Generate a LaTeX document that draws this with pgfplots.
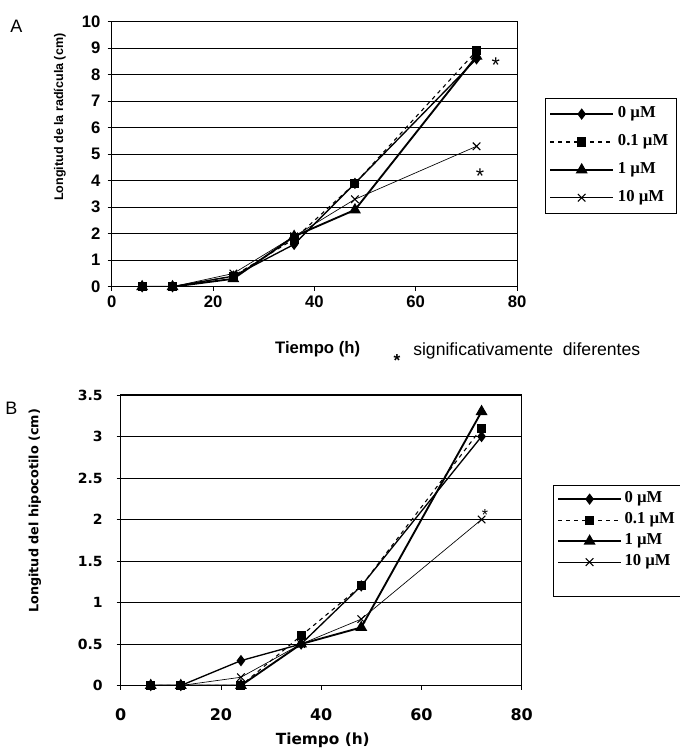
\documentclass[border=0pt]{standalone}
\usepackage{pgfplots}
\pgfplotsset{compat=1.18}
\usepackage{fontspec}
\setmainfont{Liberation Sans}
\newfontfamily\arial{Liberation Sans}
\newfontfamily\verd{DejaVu Sans}
\newfontfamily\tnr{Liberation Serif}
\begin{document}
\begin{tikzpicture}
\useasboundingbox (0,0) rectangle (510pt,564.75pt);
\pgfplotsset{
  every axis/.append style={
    scale only axis,
    xmin=0,xmax=80, xtick={0,20,40,60,80},
    tick pos=left, tick align=outside, major tick length=3pt,
    tick style={black, line width=0.6pt},
    ymajorgrids, grid style={black, line width=0.5pt},
    axis line style={black, line width=0.8pt},
    /pgf/number format/assume math mode=true,
    legend cell align=left,
    legend image code/.code={\draw[mark repeat=2,mark phase=2,#1] plot coordinates {(0pt,0pt) (23.5pt,0pt) (47pt,0pt)};},
  },
  s0/.style={black, line width=1pt, mark=diamond*, mark size=3.5pt, mark options={solid}},
  s1/.style={black, line width=0.8pt, dash pattern=on 3pt off 3pt, mark=square*, mark size=3pt, mark options={solid}},
  s2/.style={black, line width=1.4pt, mark=triangle*, mark size=3.8pt, mark options={solid}},
  s3/.style={black, line width=0.5pt, mark=x, mark size=4pt, mark options={solid, line width=0.8pt}},
}
% Panel A
\begin{axis}[at={(83.8pt,349.7pt)}, anchor=south west, width=304pt, height=198.75pt,
  ymin=0, ymax=10, ytick={0,1,2,3,4,5,6,7,8,9,10},
  yticklabels={0,1,2,3,4,5,6,7,8,9,10},
  xticklabels={0,20,40,60,80},
  yticklabel style={font=\arial\bfseries\fontsize{12.5}{12.5}\selectfont, xshift=-2pt},
  xticklabel style={font=\arial\bfseries\fontsize{12.5}{12.5}\selectfont},
  xlabel={Tiempo (h)},
  xlabel style={at={(axis description cs:0.508,-0.234)}, anchor=center, font=\arial\bfseries\fontsize{12.5}{12.5}\selectfont},
  ylabel={Longitud de la radícula (cm)},
  ylabel style={at={(axis description cs:-0.128,0.640)}, anchor=center, font=\arial\bfseries\fontsize{9.4}{9.4}\selectfont},
  legend style={at={(axis description cs:1.069,0.712)}, anchor=north west, draw=black, line width=0.6pt,
    font=\tnr\bfseries\fontsize{12.5}{12.5}\selectfont, inner xsep=3pt, inner ysep=5.5pt,
    nodes={inner xsep=3pt, inner ysep=1pt, text height=8pt, text depth=2.5pt}, row sep=8.4pt},
]
\addplot[s0] coordinates {(6,0) (12,0) (24,0.4) (36,1.6) (48,3.9) (72,8.6)};
\addlegendentry{0 µM}
\addplot[s1] coordinates {(6,0) (12,0) (24,0.4) (36,1.8) (48,3.9) (72,8.9)};
\addlegendentry{0.1 µM}
\addplot[s2] coordinates {(6,0) (12,0) (24,0.3) (36,1.9) (48,2.9) (72,8.7)};
\addlegendentry{1 µM}
\addplot[s3] coordinates {(6,0) (12,0) (24,0.5) (36,1.9) (48,3.3) (72,5.3)};
\addlegendentry{10 µM}
\node[font=\fontsize{16}{16}\selectfont, inner sep=0, yshift=-3.5pt] at (axis cs:75.8,8.55) {*};
\node[font=\fontsize{16}{16}\selectfont, inner sep=0, yshift=-3.5pt] at (axis cs:72.7,4.34) {*};
\end{axis}
% Panel B
\begin{axis}[at={(90.5pt,50.6pt)}, anchor=south west, width=300.75pt, height=217.9pt,
  ymin=0, ymax=3.5, ytick={0,0.5,1,1.5,2,2.5,3,3.5},
  yticklabel style={font=\verd\bfseries\fontsize{10.5}{10.5}\selectfont, xshift=-7pt},
  xticklabel style={font=\verd\bfseries\fontsize{12}{12}\selectfont, yshift=-11pt},
  xlabel={Tiempo (h)},
  xlabel style={at={(axis description cs:0.504,-0.189)}, anchor=center, font=\verd\bfseries\fontsize{11.5}{11.5}\selectfont},
  ylabel={Longitud del hipocotilo (cm)},
  ylabel style={at={(axis description cs:-0.214,0.601)}, anchor=center, font=\verd\bfseries\fontsize{9.6}{9.6}\selectfont},
  legend style={at={(axis description cs:1.078,0.690)}, anchor=north west, draw=black, line width=0.6pt,
    font=\tnr\bfseries\fontsize{12.5}{12.5}\selectfont, inner xsep=3pt, inner ysep=4pt,
    nodes={inner xsep=2pt, inner ysep=1pt, text height=8pt, text depth=2.5pt}, row sep=3.25pt},
]
\addplot[s0] coordinates {(6,0) (12,0) (24,0.3) (36,0.5) (48,1.2) (72,3.0)};
\addlegendentry{0 µM}
\addplot[s1] coordinates {(6,0) (12,0) (24,0) (36,0.6) (48,1.2) (72,3.1)};
\addlegendentry{0.1 µM}
\addplot[s2] coordinates {(6,0) (12,0) (24,0) (36,0.5) (48,0.7) (72,3.3)};
\addlegendentry{1 µM}
\addplot[s3] coordinates {(6,0) (12,0) (24,0.1) (36,0.5) (48,0.8) (72,2.0)};
\addlegendentry{10 µM}
\addlegendimage{empty legend}
\addlegendentry{}
\node[font=\fontsize{12}{12}\selectfont, inner sep=0, yshift=-2.5pt] at (axis cs:72.7,2.1) {*};
\end{axis}
% panel letters and note
\node[anchor=base west, inner sep=0, font=\arial\fontsize{13.5}{13.5}\selectfont] at (7.5pt,540pt) {A};
\node[anchor=base west, inner sep=0, font=\arial\fontsize{13.5}{13.5}\selectfont] at (3.75pt,253.5pt) {B};
\node[anchor=base west, inner sep=0, font=\arial\fontsize{13.2}{13.2}\selectfont] at (309.75pt,297.75pt) {significativamente\ \ diferentes};
\node[inner sep=0, font=\arial\bfseries\fontsize{13}{13}\selectfont, yshift=-3pt] at (297.75pt,297pt) {*};
\end{tikzpicture}
\end{document}
